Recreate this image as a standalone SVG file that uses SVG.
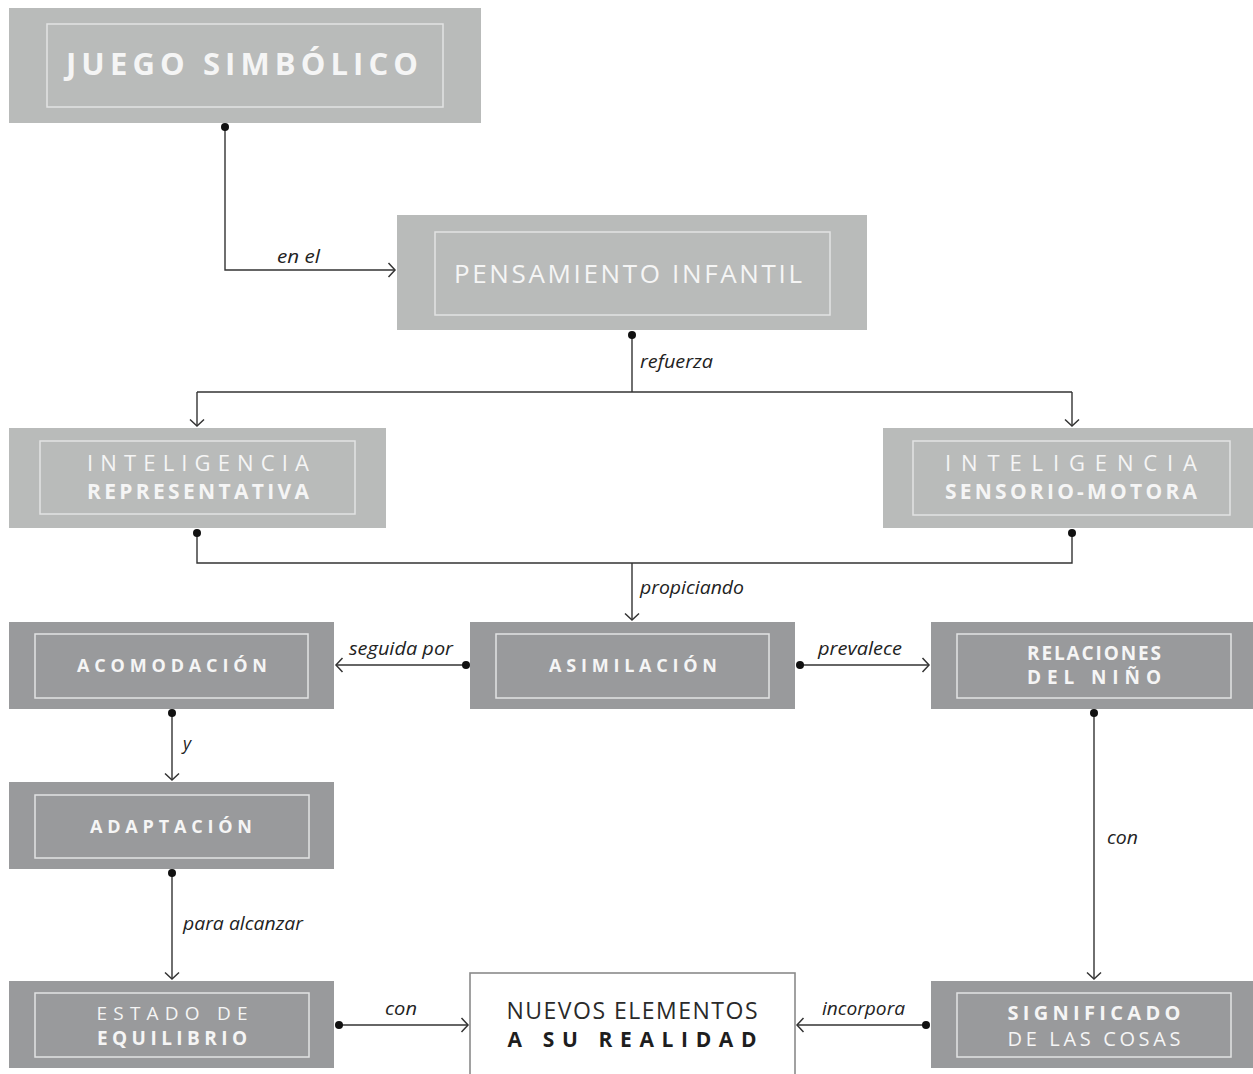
<svg xmlns="http://www.w3.org/2000/svg" width="1253" height="1074" viewBox="0 0 1253 1074">
<defs>
<style>
.light{fill:#b9bbba}
.dark{fill:#999a9c}
.inner{fill:none;stroke:#e2e3e3;stroke-width:1.5}
.t{font-family:"Open Sans","Noto Sans","DejaVu Sans",sans-serif;fill:#f5f5f5;text-anchor:middle}
.b{font-weight:700}
.r{font-weight:400}
.lbl{font-family:"Open Sans","Noto Sans","DejaVu Sans",sans-serif;font-style:italic;font-size:17.5px;fill:#222}
.ln{fill:none;stroke:#333;stroke-width:1.4}
.dot{fill:#111}
</style>
<marker id="arr" markerUnits="userSpaceOnUse" markerWidth="18" markerHeight="18" refX="9" refY="9" orient="auto">
<path d="M2.5 2 L9 9 L2.5 16" fill="none" stroke="#333" stroke-width="1.5"/>
</marker>
</defs>
<rect width="1253" height="1074" fill="#ffffff"/>

<g id="connectors">
<path class="ln" d="M225 127 V270 H395" marker-end="url(#arr)"/>
<path class="ln" d="M632 335 V392"/>
<path class="ln" d="M197 392 H1072"/>
<path class="ln" d="M197 392 V426" marker-end="url(#arr)"/>
<path class="ln" d="M1072 392 V426" marker-end="url(#arr)"/>
<path class="ln" d="M197 533 V563 H1072 V533"/>
<path class="ln" d="M632 563 V620" marker-end="url(#arr)"/>
<path class="ln" d="M466 665 H336" marker-end="url(#arr)"/>
<path class="ln" d="M800 665 H929" marker-end="url(#arr)"/>
<path class="ln" d="M172 713 V780" marker-end="url(#arr)"/>
<path class="ln" d="M172 873 V979" marker-end="url(#arr)"/>
<path class="ln" d="M339 1025 H468" marker-end="url(#arr)"/>
<path class="ln" d="M1094 713 V979" marker-end="url(#arr)"/>
<path class="ln" d="M926 1025 H797" marker-end="url(#arr)"/>
<circle class="dot" cx="225" cy="127" r="4"/>
<circle class="dot" cx="632" cy="335" r="4"/>
<circle class="dot" cx="197" cy="533" r="4"/>
<circle class="dot" cx="1072" cy="533" r="4"/>
<circle class="dot" cx="466" cy="665" r="4"/>
<circle class="dot" cx="800" cy="665" r="4"/>
<circle class="dot" cx="172" cy="713" r="4"/>
<circle class="dot" cx="172" cy="873" r="4"/>
<circle class="dot" cx="339" cy="1025" r="4"/>
<circle class="dot" cx="1094" cy="713" r="4"/>
<circle class="dot" cx="926" cy="1025" r="4"/>
<text class="lbl" x="277" y="263" textLength="43" lengthAdjust="spacingAndGlyphs">en el</text>
<text class="lbl" x="640" y="368" textLength="73" lengthAdjust="spacingAndGlyphs">refuerza</text>
<text class="lbl" x="640" y="594" textLength="104" lengthAdjust="spacingAndGlyphs">propiciando</text>
<text class="lbl" x="349" y="655" textLength="104" lengthAdjust="spacingAndGlyphs">seguida por</text>
<text class="lbl" x="818" y="655" textLength="84" lengthAdjust="spacingAndGlyphs">prevalece</text>
<text class="lbl" x="183" y="750">y</text>
<text class="lbl" x="1107" y="844" textLength="31" lengthAdjust="spacingAndGlyphs">con</text>
<text class="lbl" x="183" y="930" textLength="120" lengthAdjust="spacingAndGlyphs">para alcanzar</text>
<text class="lbl" x="385" y="1015" textLength="32" lengthAdjust="spacingAndGlyphs">con</text>
<text class="lbl" x="822" y="1015" textLength="83" lengthAdjust="spacingAndGlyphs">incorpora</text>
</g>

<g id="juego-simbolico">
<rect class="light" x="9" y="8" width="472" height="115"/>
<rect class="inner" x="47" y="24" width="396" height="83"/>
<text class="t b" x="242" y="75" font-size="31" textLength="352" lengthAdjust="spacing">JUEGO SIMBÓLICO</text>
</g>

<g id="pensamiento-infantil">
<rect class="light" x="397" y="215" width="470" height="115"/>
<rect class="inner" x="435" y="232" width="395" height="83"/>
<text class="t r" x="628" y="283" font-size="26" textLength="348" lengthAdjust="spacing">PENSAMIENTO INFANTIL</text>
</g>

<g id="inteligencia-representativa">
<rect class="light" x="9" y="428" width="377" height="100"/>
<rect class="inner" x="40" y="441" width="315" height="73"/>
<text class="t r" x="198" y="471" font-size="22" textLength="222" lengthAdjust="spacing">INTELIGENCIA</text>
<text class="t b" x="198" y="499" font-size="21" textLength="222" lengthAdjust="spacing">REPRESENTATIVA</text>
</g>

<g id="inteligencia-sensorio-motora">
<rect class="light" x="883" y="428" width="370" height="100"/>
<rect class="inner" x="913" y="441" width="317" height="74"/>
<text class="t r" x="1071" y="471" font-size="22" textLength="252" lengthAdjust="spacing">INTELIGENCIA</text>
<text class="t b" x="1071" y="499" font-size="21" textLength="252" lengthAdjust="spacing">SENSORIO-MOTORA</text>
</g>

<g id="acomodacion">
<rect class="dark" x="9" y="622" width="325" height="87"/>
<rect class="inner" x="35" y="634" width="273" height="64"/>
<text class="t b" x="172" y="672" font-size="18" textLength="190" lengthAdjust="spacing">ACOMODACIÓN</text>
</g>

<g id="asimilacion">
<rect class="dark" x="470" y="622" width="325" height="87"/>
<rect class="inner" x="496" y="634" width="273" height="64"/>
<text class="t b" x="633" y="672" font-size="18" textLength="168" lengthAdjust="spacing">ASIMILACIÓN</text>
</g>

<g id="relaciones-del-nino">
<rect class="dark" x="931" y="622" width="322" height="87"/>
<rect class="inner" x="957" y="634" width="274" height="64"/>
<text class="t b" x="1094" y="660" font-size="19" textLength="134" lengthAdjust="spacing">RELACIONES</text>
<text class="t b" x="1094" y="684" font-size="19" textLength="134" lengthAdjust="spacing">DEL NIÑO</text>
</g>

<g id="adaptacion">
<rect class="dark" x="9" y="782" width="325" height="87"/>
<rect class="inner" x="35" y="795" width="274" height="63"/>
<text class="t b" x="171" y="833" font-size="18" textLength="162" lengthAdjust="spacing">ADAPTACIÓN</text>
</g>

<g id="estado-de-equilibrio">
<rect class="dark" x="9" y="981" width="325" height="87"/>
<rect class="inner" x="35" y="993" width="274" height="64"/>
<text class="t r" x="172" y="1020" font-size="19" textLength="151" lengthAdjust="spacing">ESTADO DE</text>
<text class="t b" x="172" y="1045" font-size="19" textLength="150" lengthAdjust="spacing">EQUILIBRIO</text>
</g>

<g id="nuevos-elementos">
<rect x="470" y="973" width="325" height="130" fill="#ffffff" stroke="#8a8a8a" stroke-width="1.6"/>
<text class="t r" x="632" y="1019" font-size="23" style="fill:#2a2a2a" textLength="251" lengthAdjust="spacing">NUEVOS ELEMENTOS</text>
<text class="t b" x="632" y="1047" font-size="21" style="fill:#1e1e1e" textLength="249" lengthAdjust="spacing">A SU REALIDAD</text>
</g>

<g id="significado-de-las-cosas">
<rect class="dark" x="931" y="981" width="322" height="87"/>
<rect class="inner" x="957" y="993" width="274" height="64"/>
<text class="t b" x="1094" y="1020" font-size="20" textLength="173" lengthAdjust="spacing">SIGNIFICADO</text>
<text class="t r" x="1094" y="1046" font-size="20" textLength="173" lengthAdjust="spacing">DE LAS COSAS</text>
</g>
</svg>
